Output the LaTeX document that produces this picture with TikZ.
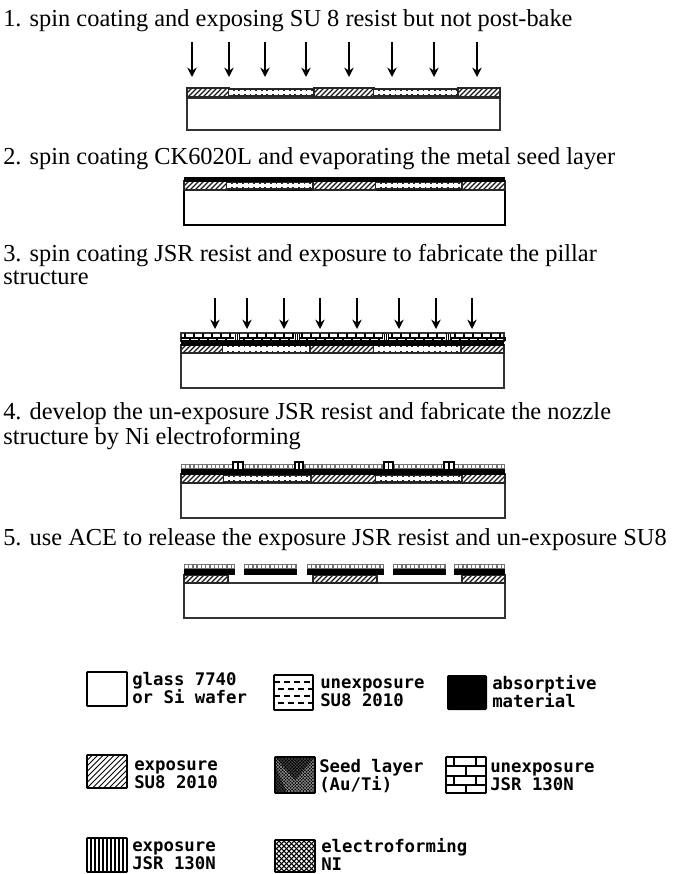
\documentclass[tikz,border=0pt]{standalone}
\usepackage{fontspec}
\setmainfont{Liberation Serif}
\newfontfamily\cadfont{DejaVu Sans Mono}
\usetikzlibrary{arrows.meta}
\tikzset{
  thin line/.style={line width=0.6pt,black},
  glassbox/.style={draw=black!80,line width=1.2pt,fill=white},
  head/.style={font=\fontsize{18.3}{19}\selectfont,anchor=base west,inner sep=0pt,align=left},
  lgd/.style={font=\cadfont\bfseries\fontsize{13}{13.5}\selectfont,anchor=west,inner sep=0pt,align=left},
  swatch/.style={draw=black,line width=1.3pt,rounded corners=0.5pt},
  arrowline/.style={line width=1.3pt,black,-{Stealth[length=7pt,width=7pt]}}
}
\newcommand{\slashlines}[6][]{\begin{scope}\clip (#2,#3) rectangle (#4,#5);
  \pgfmathsetmacro\hatchH{#5-#3}\pgfmathsetmacro\hatchA{#2-\hatchH}\pgfmathsetmacro\hatchB{\hatchA+#6}
  \foreach \hx in {\hatchA,\hatchB,...,#4} \draw[thin line,#1] (\hx,#5) -- (\hx+\hatchH,#3);
  \end{scope}}
\newcommand{\backlines}[6][]{\begin{scope}\clip (#2,#3) rectangle (#4,#5);
  \pgfmathsetmacro\hatchH{#5-#3}\pgfmathsetmacro\hatchA{#2-\hatchH}\pgfmathsetmacro\hatchB{\hatchA+#6}
  \foreach \hx in {\hatchA,\hatchB,...,#4} \draw[thin line,#1] (\hx,#3) -- (\hx+\hatchH,#5);
  \end{scope}}
\newcommand{\hatchlayer}[4]{\slashlines[black!90,line width=0.85pt]{#1}{#2}{#3}{#4}{5}\draw[black!85,line width=0.8pt] (#1,#2) rectangle (#3,#4);}
\newcommand{\unexplayer}[4]{\fill[black!85] (#1,#2) rectangle (#3,#4);
  \draw[line width=2.6pt,white] (#1,{(#2+#4)/2}) -- (#3,{(#2+#4)/2});
  \draw[line width=3.8pt,white,dash pattern=on 2.8pt off 1.4pt] (#1,{(#2+#4)/2}) -- (#3,{(#2+#4)/2});}
\newcommand{\checklayer}[4]{\fill[black!55] (#1,#2) rectangle (#3,#4);
  \draw[line width=2.6pt,white,dash pattern=on 2.2pt off 1pt] (#1+1,{(#2+#4)/2-0.5}) -- (#3-1,{(#2+#4)/2-0.5});}
\newcommand{\bricklayer}[4]{\fill[white] (#1,#2) rectangle (#3,#4);
  \draw[black!80,line width=0.9pt] (#1,#2) rectangle (#3,#4);
  \pgfmathsetmacro\brickB{#1+4}\pgfmathsetmacro\brickC{#1+13}
  \foreach \bx in {\brickB,\brickC,...,#3} \draw[line width=0.9pt] (\bx,#2) -- (\bx,{(#2+#4)/2}) (\bx+5,{(#2+#4)/2}) -- (\bx+5,#4);
  \draw[line width=1.1pt] (#1,{(#2+#4)/2+1}) -- (#3,{(#2+#4)/2+1});}
\newcommand{\pillar}[4]{\fill[white] (#1,#2) rectangle (#3,#4);
  \draw[black,line width=0.9pt] (#1,#4) -- (#1,#2) -- (#3,#2) -- (#3,#4);
  \draw[line width=0.8pt] ({(#1+#3)/2},#2) -- ({(#1+#3)/2},#4);}
\newcommand{\lgdtext}[5]{\node[lgd] (#1) at (#2,#3) {\rule{0pt}{9.5pt}\smash{#4}\\\rule{0pt}{9.5pt}\smash{#5}};}
\begin{document}
\begin{tikzpicture}[x=0.75pt,y=-0.75pt]
\useasboundingbox (0,0) rectangle (680,874);
\fill[white] (0,0) rectangle (680,874);
\node[head] (t1) at (3,27) {1. spin coating and exposing SU 8 resist but not post-bake};
\node[head] (t2) at (3,164.5) {2. spin coating CK6020L and evaporating the metal seed layer};
\node[head] (t3) at (3,261) {3. spin coating JSR resist and exposure to fabricate the pillar};
\node[head] (t3b) at (3,284) {structure};
\node[head] (t4) at (3,419) {4. develop the un-exposure JSR resist and fabricate the nozzle};
\node[head] (t4b) at (3,444) {structure by Ni electroforming};
\node[head] (t5) at (3,545) {5. use ACE to release the exposure JSR resist and un-exposure SU8};
\foreach \n/\ax in {a/192,b/229,c/265,d/306,e/349,f/392,g/434,h/477}{
  \coordinate (p1\n) at (\ax,42); \coordinate (q1\n) at (\ax,77);
  \draw[arrowline] (p1\n) -- (q1\n);}
% structure 1
\draw[glassbox] (187,98) rectangle (500,130);
\hatchlayer{187}{88}{229}{97}\unexplayer{229}{88}{314}{97}\hatchlayer{314}{88}{374}{97}\unexplayer{374}{88}{458}{97}\hatchlayer{458}{88}{500}{97}
% structure 2
\draw[glassbox,draw=black,line width=1.4pt] (184,190) rectangle (505,225);
\hatchlayer{184}{181}{227}{190}\unexplayer{227}{181}{313}{190}\hatchlayer{313}{181}{376}{190}\unexplayer{376}{181}{462}{190}\hatchlayer{462}{181}{505}{190}
\fill[black] (184,177) rectangle (505,182);
% arrows 3
\foreach \n/\ax in {a/215,b/247,c/284,d/320,e/357,f/399,g/436,h/472}{
  \coordinate (p3\n) at (\ax,298); \coordinate (q3\n) at (\ax,329);
  \draw[arrowline] (p3\n) -- (q3\n);}
% structure 3
\draw[glassbox] (181,353) rectangle (504,388);
\hatchlayer{181}{345}{223}{353}\unexplayer{223}{345}{310}{353}\hatchlayer{310}{345}{374}{353}\unexplayer{374}{345}{461}{353}\hatchlayer{461}{345}{504}{353}
\bricklayer{181}{333}{504}{341}
\fill[black] (181,340) rectangle (504,346);
\foreach \pxx in {237,297,386,448}{\fill[white] (\pxx-3,334) rectangle (\pxx+3,340);
  \foreach \dd in {-2,0,2} \draw[line width=0.5pt] (\pxx+\dd,334) -- (\pxx+\dd,340);}
% structure 4
\draw[glassbox] (181,483) rectangle (505,518);
\hatchlayer{181}{474}{224}{483}\unexplayer{224}{474}{311}{483}\hatchlayer{311}{474}{376}{483}\unexplayer{376}{474}{462}{483}\hatchlayer{462}{474}{505}{483}
\checklayer{181}{464}{505}{470}
\fill[black] (181,469) rectangle (505,475);
\pillar{233}{462}{243}{469}\pillar{295}{462}{303}{469}\pillar{384}{462}{393}{469}\pillar{444}{462}{454}{469}
% structure 5
\draw[glassbox] (184,583) rectangle (505,618);
\hatchlayer{184}{575}{228}{583}\hatchlayer{313}{575}{377}{583}\hatchlayer{462}{575}{505}{583}
\foreach \sa/\sb in {184/235,244/297,307/384,393/446,454/505}{
  \checklayer{\sa}{564}{\sb}{570}
  \fill[black] (\sa,569) rectangle (\sb,575);}
% legend swatches
\draw[swatch,fill=white] (87,672) rectangle (127,706);
\draw[swatch,fill=white] (274,675) rectangle (313,710);
\foreach \ry/\rs in {682/274,689/278,696/274,703/278}{
  \begin{scope}\clip (274,675) rectangle (313,710);
  \draw[line width=1.1pt,dash pattern=on 4.5pt off 3pt] (\rs,\ry) -- (313,\ry);
  \end{scope}}
\fill[black,rounded corners=1pt] (447,675) rectangle (487,710);
\slashlines{87}{755}{127}{788}{5.5}
\draw[swatch] (87,755) rectangle (127,788);
\fill[black] (275,757) rectangle (315,793);
\slashlines[white!60!black,line width=0.4pt]{275}{757}{315}{793}{3.2}
\backlines[white!60!black,line width=0.4pt]{275}{757}{315}{793}{3.2}
\fill[black,opacity=0.55] (275,757) -- (315,757) -- (295,780) -- cycle;
\fill[black,opacity=0.55] (275,765) -- (275,793) -- (287,793) -- cycle;
\draw[swatch] (275,757) rectangle (315,793);
\draw[swatch] (446,757) rectangle (486,793);
\draw[line width=1.1pt] (446,766) -- (486,766) (446,776) -- (486,776) (446,785) -- (486,785)
  (454,757) -- (454,766) (476,757) -- (476,766)
  (466,766) -- (466,776)
  (454,776) -- (454,785) (476,776) -- (476,785)
  (466,785) -- (466,793);
\foreach \vx in {91,95,...,123} \draw[line width=1pt] (\vx,838) -- (\vx,872);
\draw[swatch] (87,838) rectangle (127,872);
\slashlines[line width=0.8pt]{275}{840}{315}{872}{5}
\backlines[line width=0.8pt]{275}{840}{315}{872}{5}
\draw[swatch] (275,840) rectangle (315,872);
% legend text
\lgdtext{l1}{132}{688.5}{glass 7740}{or Si wafer}
\lgdtext{l2}{320}{691}{unexposure}{SU8 2010}
\lgdtext{l3}{492}{692.5}{absorptive}{material}
\lgdtext{l4}{134}{773}{exposure}{SU8 2010}
\lgdtext{l5}{319}{775}{Seed layer}{(Au/Ti)}
\lgdtext{l6}{490}{775}{unexposure}{JSR 130N}
\lgdtext{l7}{132}{854}{exposure}{JSR 130N}
\lgdtext{l8}{321}{855}{electroforming}{NI}
\end{tikzpicture}
\end{document}
